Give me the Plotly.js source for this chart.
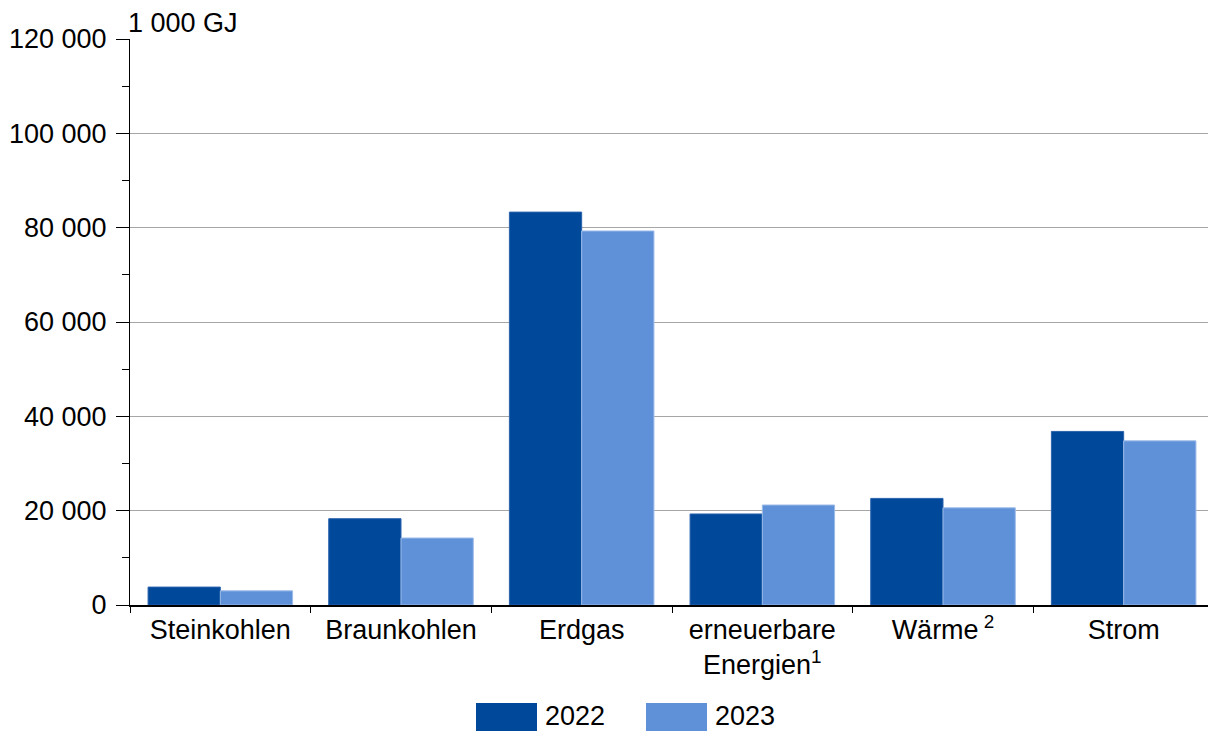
<!DOCTYPE html>
<html>
<head>
<meta charset="utf-8">
<script src="https://cdn.plot.ly/plotly-3.0.1.min.js"></script>
<style>html,body{margin:0;padding:0;background:#fff;overflow:hidden;}#chart{width:1214px;height:731px;}</style>
</head>
<body>
<div id="chart"></div>
<script>
const categories = ["Steinkohlen", "Braunkohlen", "Erdgas", "erneuerbare<br>Energien<sup>1</sup>", "Wärme<sup> 2</sup>", "Strom"];
const values2022 = [3800, 18300, 83300, 19300, 22600, 36800];
const values2023 = [3000, 14200, 79300, 21200, 20600, 34800];
const seriesNames = ["2022", "2023"];
const yTicks = [0, 20000, 40000, 60000, 80000, 100000, 120000];
const unitLabel = "1 000 GJ";

const W = 1214, H = 731, L = 130, R = 0, T = 39, B = 126;
const pw = W - L - R, ph = H - T - B;
const px = x => (x - L) / pw;
const py = y => (H - B - y) / ph;

const colors = ["#00489A", "#5F91D9"];
const font = {family: "Liberation Sans, Arial, sans-serif", size: 27, color: "#000"};

const traces = [values2022, values2023].map((v, i) => ({
  type: "bar",
  x: categories,
  y: v,
  name: seriesNames[i],
  marker: {color: colors[i], line: {width: 1, color: i === 0 ? "#2a63ad" : "#9cbbe8"}},
  showlegend: false,
  hoverinfo: "none"
}));

const shapes = [];
const annotations = [{
  xref: "paper", yref: "paper", x: px(126), y: py(23), xanchor: "left", yanchor: "middle",
  text: unitLabel, showarrow: false, font: font
}];
const legendPos = [[476, 543], [646, 713]];
seriesNames.forEach((n, i) => {
  shapes.push({type: "rect", xref: "paper", yref: "paper",
    x0: px(legendPos[i][0]), x1: px(legendPos[i][0] + 61), y0: py(731), y1: py(703),
    fillcolor: colors[i], line: {width: 0}});
  annotations.push({xref: "paper", yref: "paper", x: px(legendPos[i][1]), y: py(716),
    xanchor: "left", yanchor: "middle", text: n, showarrow: false, font: font});
});

const layout = {
  width: W, height: H,
  margin: {l: L, r: R, t: T, b: B, pad: 0},
  paper_bgcolor: "#fff", plot_bgcolor: "#fff",
  font: font,
  separators: ", ",
  barmode: "group",
  bargap: 0.2,
  bargroupgap: 0,
  showlegend: false,
  xaxis: {
    showgrid: false, showline: true, linecolor: "#000", linewidth: 1.5,
    ticks: "outside", ticklen: 6, tickcolor: "#000", tickson: "boundaries",
    tickfont: font, fixedrange: true, automargin: false
  },
  yaxis: {
    range: [0, 120000], tickvals: yTicks, tickformat: ",d",
    showgrid: true, gridcolor: "#a6a6a6", gridwidth: 1,
    showline: true, linecolor: "#000", linewidth: 1,
    ticks: "outside", ticklen: 13, tickcolor: "#000", ticklabelstandoff: 4,
    minor: {dtick: 10000, ticks: "outside", ticklen: 7, tickcolor: "#000", showgrid: false},
    zeroline: false, tickfont: font, fixedrange: true, automargin: false
  },
  shapes: shapes,
  annotations: annotations
};

Plotly.newPlot("chart", traces, layout, {displayModeBar: false, staticPlot: true});
</script>
</body>
</html>
